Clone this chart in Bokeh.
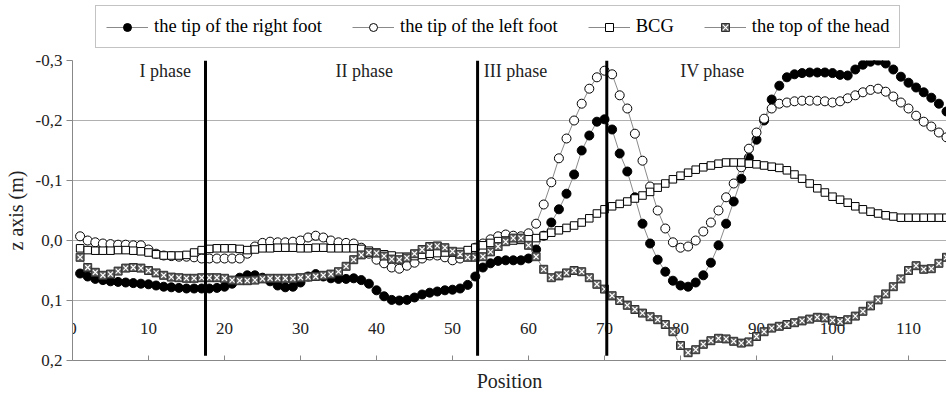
from bokeh.plotting import figure
from bokeh.layouts import column
from bokeh.models import Range1d, FixedTicker, Legend, LegendItem, ColumnDataSource, CustomJSTickFormatter
from bokeh.embed import file_html
from bokeh.resources import INLINE
from bokeh.core.properties import value

positions = list(range(1, 116))

right_foot = [
    0.055, 0.060, 0.064, 0.066, 0.068, 0.069, 0.070, 0.071, 0.072, 0.073,
    0.075, 0.077, 0.078, 0.079, 0.080, 0.080, 0.080, 0.080, 0.079, 0.077,
    0.072, 0.062, 0.058, 0.058, 0.062, 0.068, 0.075, 0.078, 0.077, 0.070,
    0.060, 0.056, 0.060, 0.063, 0.064, 0.064, 0.063, 0.066, 0.072, 0.083,
    0.093, 0.099, 0.100, 0.099, 0.095, 0.090, 0.087, 0.085, 0.083, 0.082,
    0.080, 0.074, 0.060, 0.045, 0.038, 0.034, 0.033, 0.033, 0.033, 0.030,
    0.015, -0.008, -0.030, -0.052, -0.078, -0.110, -0.150, -0.175, -0.198, -0.202,
    -0.185, -0.145, -0.115, -0.072, -0.028, 0.005, 0.032, 0.052, 0.067, 0.075,
    0.077, 0.070, 0.058, 0.037, 0.008, -0.028, -0.065, -0.103, -0.138, -0.168,
    -0.200, -0.235, -0.258, -0.272, -0.277, -0.279, -0.280, -0.280, -0.280, -0.279,
    -0.276, -0.275, -0.285, -0.293, -0.298, -0.300, -0.295, -0.285, -0.273, -0.263,
    -0.255, -0.247, -0.238, -0.228, -0.215,
]

left_foot = [
    -0.007, 0.000, 0.003, 0.005, 0.006, 0.007, 0.007, 0.008, 0.008, 0.015,
    0.022, 0.025, 0.026, 0.027, 0.027, 0.028, 0.030, 0.030, 0.030, 0.030,
    0.030, 0.030, 0.022, 0.010, 0.004, 0.002, 0.003, 0.003, 0.002, 0.000,
    -0.005, -0.008, -0.005, 0.000, 0.003, 0.004, 0.005, 0.012, 0.022, 0.032,
    0.038, 0.045, 0.047, 0.042, 0.037, 0.030, 0.025, 0.025, 0.028, 0.033,
    0.030, 0.022, 0.012, 0.005, -0.002, -0.007, -0.010, -0.008, -0.007, -0.012,
    -0.028, -0.060, -0.097, -0.137, -0.170, -0.200, -0.228, -0.253, -0.272, -0.283,
    -0.277, -0.242, -0.220, -0.178, -0.133, -0.090, -0.050, -0.020, 0.003, 0.012,
    0.010, 0.000, -0.015, -0.030, -0.050, -0.072, -0.095, -0.122, -0.153, -0.180,
    -0.203, -0.220, -0.228, -0.230, -0.232, -0.233, -0.233, -0.233, -0.232, -0.230,
    -0.232, -0.237, -0.242, -0.247, -0.251, -0.253, -0.248, -0.240, -0.230, -0.220,
    -0.208, -0.198, -0.190, -0.180, -0.172,
]

bcg = [
    0.013, 0.016, 0.017, 0.017, 0.017, 0.016, 0.016, 0.017, 0.018, 0.020,
    0.023, 0.025, 0.025, 0.025, 0.024, 0.020, 0.016, 0.014, 0.013, 0.013,
    0.013, 0.014, 0.016, 0.015, 0.013, 0.013, 0.012, 0.012, 0.012, 0.013,
    0.013, 0.012, 0.012, 0.013, 0.013, 0.013, 0.013, 0.014, 0.017, 0.020,
    0.023, 0.025, 0.027, 0.027, 0.026, 0.024, 0.022, 0.021, 0.020, 0.020,
    0.019, 0.016, 0.012, 0.008, 0.004, 0.001, 0.000, 0.000, -0.001, -0.002,
    -0.004, -0.008, -0.013, -0.017, -0.021, -0.025, -0.030, -0.037, -0.045, -0.052,
    -0.057, -0.061, -0.065, -0.070, -0.075, -0.081, -0.088, -0.095, -0.102, -0.108,
    -0.113, -0.118, -0.122, -0.125, -0.128, -0.130, -0.130, -0.130, -0.128, -0.127,
    -0.125, -0.123, -0.121, -0.117, -0.110, -0.103, -0.095, -0.087, -0.080, -0.073,
    -0.068, -0.063, -0.057, -0.052, -0.048, -0.045, -0.042, -0.040, -0.038, -0.038,
    -0.038, -0.038, -0.038, -0.038, -0.038,
]

top_head = [
    0.028, 0.045, 0.053, 0.058, 0.056, 0.051, 0.046, 0.045, 0.046, 0.050,
    0.054, 0.058, 0.061, 0.062, 0.063, 0.063, 0.062, 0.062, 0.062, 0.063,
    0.066, 0.067, 0.067, 0.066, 0.064, 0.063, 0.063, 0.063, 0.063, 0.062,
    0.061, 0.060, 0.058, 0.056, 0.052, 0.043, 0.032, 0.024, 0.020, 0.021,
    0.026, 0.031, 0.032, 0.029, 0.022, 0.015, 0.010, 0.009, 0.012, 0.018,
    0.023, 0.028, 0.028, 0.027, 0.019, 0.010, 0.002, -0.004, -0.004, 0.008,
    0.027, 0.048, 0.062, 0.059, 0.054, 0.050, 0.052, 0.062, 0.073, 0.081,
    0.092, 0.100, 0.108, 0.115, 0.121, 0.127, 0.132, 0.140, 0.152, 0.175,
    0.187, 0.182, 0.173, 0.167, 0.163, 0.164, 0.168, 0.171, 0.169, 0.160,
    0.152, 0.146, 0.143, 0.140, 0.137, 0.134, 0.131, 0.128, 0.129, 0.133,
    0.135, 0.132, 0.126, 0.118, 0.109, 0.099, 0.089, 0.077, 0.064, 0.050,
    0.042, 0.048, 0.047, 0.038, 0.028,
]

series_names = ["the tip of the right foot", "the tip of the left foot", "BCG", "the top of the head"]

y_ticks = [-0.3, -0.2, -0.1, 0.0, 0.1, 0.2]
y_tick_labels = ["-0,3", "-0,2", "-0,1", "0,0", "0,1", "0,2"]
grid_ticks = [-0.2, -0.1, 0.0, 0.1]
x_ticks = [0, 10, 20, 30, 40, 50, 60, 70, 80, 90, 100, 110]
x_tick_labels = [str(t) for t in x_ticks]

phase_bounds = [17.5, 53.3, 70.3]
phase_names = ["I phase", "II phase", "III phase", "IV phase"]
phase_label_x = [12.2, 38.4, 58.3, 84.2]

SERIF = "'Liberation Serif', 'Times New Roman', serif"
TXT = "#222222"
LINE = "#8a8a8a"

src = ColumnDataSource(dict(x=positions, rf=right_foot, lf=left_foot, bcg=bcg, th=top_head))


def draw_series(fig):
    r = {}
    r["l1"] = fig.line("x", "rf", source=src, line_color=LINE, line_width=1)
    r["s1"] = fig.scatter("x", "rf", source=src, marker="circle", size=9, fill_color="black", line_color="black")
    r["l2"] = fig.line("x", "lf", source=src, line_color=LINE, line_width=1)
    r["s2"] = fig.scatter("x", "lf", source=src, marker="circle", size=9, fill_color="white", line_color="black", line_width=1)
    r["l3"] = fig.line("x", "bcg", source=src, line_color=LINE, line_width=1)
    r["s3"] = fig.scatter("x", "bcg", source=src, marker="square", size=7.5, fill_color="white", line_color="black", line_width=1)
    r["l4"] = fig.line("x", "th", source=src, line_color=LINE, line_width=1)
    r["s4"] = fig.scatter("x", "th", source=src, marker="square", size=8, fill_color="#606060", line_color="#303030", line_width=1)
    r["s4x"] = fig.scatter("x", "th", source=src, marker="x", size=7, line_color="white", line_width=1.2)
    return r


# ---- main chart ----
p = figure(width=946, height=348, output_backend="svg", toolbar_location=None,
           x_range=Range1d(0, 115), y_range=Range1d(0.2, -0.3),
           min_border_left=72, min_border_right=0, min_border_top=12, min_border_bottom=36)
p.outline_line_color = None
p.background_fill_color = "white"

p.yaxis.ticker = FixedTicker(ticks=y_ticks)
p.yaxis.formatter = CustomJSTickFormatter(
    args=dict(tvals=y_ticks, tlabs=y_tick_labels),
    code="""
let best = 0;
for (let i = 0; i < tvals.length; i++) {
  if (Math.abs(tvals[i] - tick) < Math.abs(tvals[best] - tick)) { best = i; }
}
return tlabs[best];
""")
p.yaxis.axis_line_color = "#888888"
p.yaxis.major_tick_line_color = "#888888"
p.yaxis.major_tick_out = 6
p.yaxis.major_tick_in = 0
p.yaxis.minor_tick_line_color = None
p.yaxis.major_label_standoff = 4
p.yaxis.major_label_text_font = SERIF
p.yaxis.major_label_text_font_size = "17px"
p.yaxis.major_label_text_color = TXT
p.yaxis.axis_label = "z axis (m)"
p.yaxis.axis_label_text_font = SERIF
p.yaxis.axis_label_text_font_size = "20px"
p.yaxis.axis_label_text_font_style = "normal"
p.yaxis.axis_label_text_color = TXT
p.yaxis.axis_label_standoff = 6

p.xaxis.ticker = FixedTicker(ticks=x_ticks)
p.xaxis.axis_line_color = "#888888"
p.xaxis.major_tick_line_color = "#888888"
p.xaxis.major_tick_in = 5
p.xaxis.major_tick_out = 0
p.xaxis.minor_tick_line_color = None
p.xaxis.major_label_text_font_size = "4px"
p.xaxis.major_label_text_color = None
p.xaxis.major_label_standoff = 0
p.xaxis.axis_label = "Position"
p.xaxis.axis_label_text_font = SERIF
p.xaxis.axis_label_text_font_size = "20px"
p.xaxis.axis_label_text_font_style = "normal"
p.xaxis.axis_label_text_color = TXT
p.xaxis.axis_label_standoff = 9

p.xgrid.visible = False
p.ygrid.ticker = FixedTicker(ticks=grid_ticks)
p.ygrid.grid_line_color = "#b0b0b0"
p.ygrid.grid_line_width = 1

# x tick labels sit inside the plot area, as in the reference
p.text(x=x_ticks, y=[0.147] * len(x_ticks), text=x_tick_labels,
       text_font=value(SERIF), text_font_size="17px", text_color=TXT,
       text_align="center", text_baseline="middle")

draw_series(p)

p.segment(x0=phase_bounds, y0=[-0.3] * len(phase_bounds), x1=phase_bounds, y1=[0.192] * len(phase_bounds),
          line_color="black", line_width=3)
p.text(x=phase_label_x, y=[-0.283] * len(phase_label_x), text=phase_names,
       text_font=value(SERIF), text_font_size="18px", text_color=TXT,
       text_align="center", text_baseline="middle")

# ---- legend strip above the chart ----
lf = figure(width=946, height=48, output_backend="svg", toolbar_location=None,
            x_range=Range1d(-30, -20), y_range=Range1d(5, 6),
            x_axis_location=None, y_axis_location=None,
            min_border_left=0, min_border_right=0, min_border_top=0, min_border_bottom=0)
lf.outline_line_color = None
lf.xgrid.visible = False
lf.ygrid.visible = False
r = draw_series(lf)

legend = Legend(items=[
    LegendItem(label=series_names[0], renderers=[r["l1"], r["s1"]]),
    LegendItem(label=series_names[1], renderers=[r["l2"], r["s2"]]),
    LegendItem(label=series_names[2], renderers=[r["l3"], r["s3"]]),
    LegendItem(label=series_names[3], renderers=[r["l4"], r["s4"], r["s4x"]]),
], orientation="horizontal", location=(23, 0))
legend.label_text_font = SERIF
legend.label_text_font_size = "18.5px"
legend.label_text_color = "black"
legend.border_line_color = "#888888"
legend.border_line_width = 1
legend.background_fill_color = "white"
legend.background_fill_alpha = 1
legend.glyph_width = 42
legend.glyph_height = 20
legend.label_standoff = 6
legend.spacing = 30
legend.padding = 10
legend.margin = 0
lf.add_layout(legend, "center")

layout = column(lf, p, spacing=0)
open("out.html", "w").write(file_html(layout, INLINE))
